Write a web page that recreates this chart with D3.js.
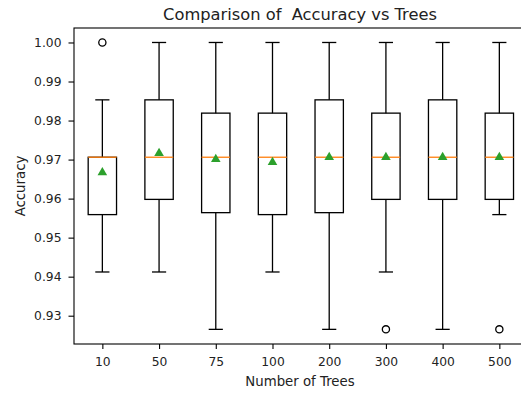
<!DOCTYPE html>
<html>
<head>
<meta charset="utf-8">
<script src="https://cdn.jsdelivr.net/npm/d3@7"></script>
<style>
  body { margin: 0; background: #fff; }
  svg { display: block; font-family: "DejaVu Sans", sans-serif; }
</style>
</head>
<body>
<div id="chart"></div>
<script>
// Box statistics, one entry per tree count
const treeCounts = ['10', '50', '75', '100', '200', '300', '400', '500'];
const lowWhisker = [0.9412, 0.9412, 0.9265, 0.9412, 0.9265, 0.9412, 0.9265, 0.9559];
const q1 = [0.9559, 0.9598, 0.9564, 0.9559, 0.9564, 0.9598, 0.9598, 0.9598];
const medians = [0.9706, 0.9706, 0.9706, 0.9706, 0.9706, 0.9706, 0.9706, 0.9706];
const q3 = [0.9706, 0.9853, 0.9819, 0.9819, 0.9853, 0.9819, 0.9853, 0.9819];
const highWhisker = [0.9853, 1.0, 1.0, 1.0, 1.0, 1.0, 1.0, 1.0];
const means = [0.9667, 0.9716, 0.9701, 0.9693, 0.9706, 0.9706, 0.9706, 0.9706];
const outliers = [[1.0], [], [], [], [], [0.9265], [], [0.9265]];
const yTicks = [0.93, 0.94, 0.95, 0.96, 0.97, 0.98, 0.99, 1.00];

const width = 521, height = 394;
const plotLeft = 74, plotTop = 28, plotBottom = 344, plotRight = 527.7;

const svg = d3.select('#chart').append('svg')
  .attr('width', width)
  .attr('height', height);

const x = d3.scaleLinear().domain([0.5, 8.5]).range([plotLeft, plotRight]);
const y = d3.scaleLinear().domain([0.92275, 1.00371]).range([plotBottom, plotTop]);

const boxes = treeCounts.map((t, i) => ({
  i: i + 1, lo: lowWhisker[i], q1: q1[i], med: medians[i], q3: q3[i],
  hi: highWhisker[i], mean: means[i], out: outliers[i]
}));

const halfBox = (x(1.25) - x(1));
const halfCap = (x(1.125) - x(1));
const lw = 1.3;

const g = svg.append('g');

// whiskers
g.selectAll('.whisk-lo').data(boxes).enter().append('line')
  .attr('x1', d => x(d.i)).attr('x2', d => x(d.i))
  .attr('y1', d => y(d.q1)).attr('y2', d => y(d.lo))
  .attr('stroke', '#000').attr('stroke-width', lw);
g.selectAll('.whisk-hi').data(boxes).enter().append('line')
  .attr('x1', d => x(d.i)).attr('x2', d => x(d.i))
  .attr('y1', d => y(d.q3)).attr('y2', d => y(d.hi))
  .attr('stroke', '#000').attr('stroke-width', lw);

// caps
['lo', 'hi'].forEach(k => {
  g.selectAll('.cap-' + k).data(boxes).enter().append('line')
    .attr('x1', d => x(d.i) - halfCap).attr('x2', d => x(d.i) + halfCap)
    .attr('y1', d => y(d[k])).attr('y2', d => y(d[k]))
    .attr('stroke', '#000').attr('stroke-width', lw);
});

// boxes
g.selectAll('.box').data(boxes).enter().append('rect')
  .attr('x', d => x(d.i) - halfBox)
  .attr('width', halfBox * 2)
  .attr('y', d => y(d.q3))
  .attr('height', d => y(d.q1) - y(d.q3))
  .attr('fill', 'none').attr('stroke', '#000').attr('stroke-width', lw);

// medians
g.selectAll('.median').data(boxes).enter().append('line')
  .attr('x1', d => x(d.i) - halfBox).attr('x2', d => x(d.i) + halfBox)
  .attr('y1', d => y(d.med)).attr('y2', d => y(d.med))
  .attr('stroke', '#ff7f0e').attr('stroke-width', lw);

// means
const tri = d3.symbol().type(d3.symbolTriangle).size(40);
g.selectAll('.mean').data(boxes).enter().append('path')
  .attr('d', tri)
  .attr('transform', d => `translate(${x(d.i)},${y(d.mean)})`)
  .attr('fill', '#2ca02c');

// fliers
const fliers = boxes.flatMap(d => d.out.map(v => ({ i: d.i, v })));
g.selectAll('.flier').data(fliers).enter().append('circle')
  .attr('cx', d => x(d.i)).attr('cy', d => y(d.v)).attr('r', 3.6)
  .attr('fill', 'none').attr('stroke', '#000').attr('stroke-width', lw);

// axes
const xAxis = svg.append('g')
  .attr('transform', `translate(0,${plotBottom})`)
  .call(d3.axisBottom(x).tickValues(d3.range(1, 9))
    .tickFormat(d => treeCounts[d - 1]).tickSize(5).tickPadding(8.5));
const yAxis = svg.append('g')
  .attr('transform', `translate(${plotLeft},0)`)
  .call(d3.axisLeft(y).tickValues(yTicks).tickFormat(d3.format('.2f'))
    .tickSize(5.5).tickPadding(7));

[xAxis, yAxis].forEach(a => {
  a.selectAll('.domain').remove();
  a.selectAll('line').attr('stroke', '#000').attr('stroke-width', 1.1);
  a.selectAll('text').attr('font-size', 12.3).attr('fill', '#222')
    .attr('font-family', '"DejaVu Sans", sans-serif');
});

// spines (right one falls outside the picture)
svg.append('rect')
  .attr('x', plotLeft).attr('y', plotTop)
  .attr('width', plotRight - plotLeft).attr('height', plotBottom - plotTop)
  .attr('fill', 'none').attr('stroke', '#000').attr('stroke-width', 1.1);

// labels
svg.append('text')
  .attr('x', 300).attr('y', 20)
  .attr('text-anchor', 'middle')
  .attr('font-size', 16.3).attr('fill', '#222')
  .attr('xml:space', 'preserve').style('white-space', 'pre')
  .text('Comparison of  Accuracy vs Trees');

svg.append('text')
  .attr('x', 300).attr('y', 386)
  .attr('text-anchor', 'middle')
  .attr('font-size', 13.3).attr('fill', '#222')
  .text('Number of Trees');

svg.append('text')
  .attr('transform', 'translate(25,186) rotate(-90)')
  .attr('text-anchor', 'middle')
  .attr('font-size', 13.3).attr('fill', '#222')
  .text('Accuracy');
</script>
</body>
</html>
